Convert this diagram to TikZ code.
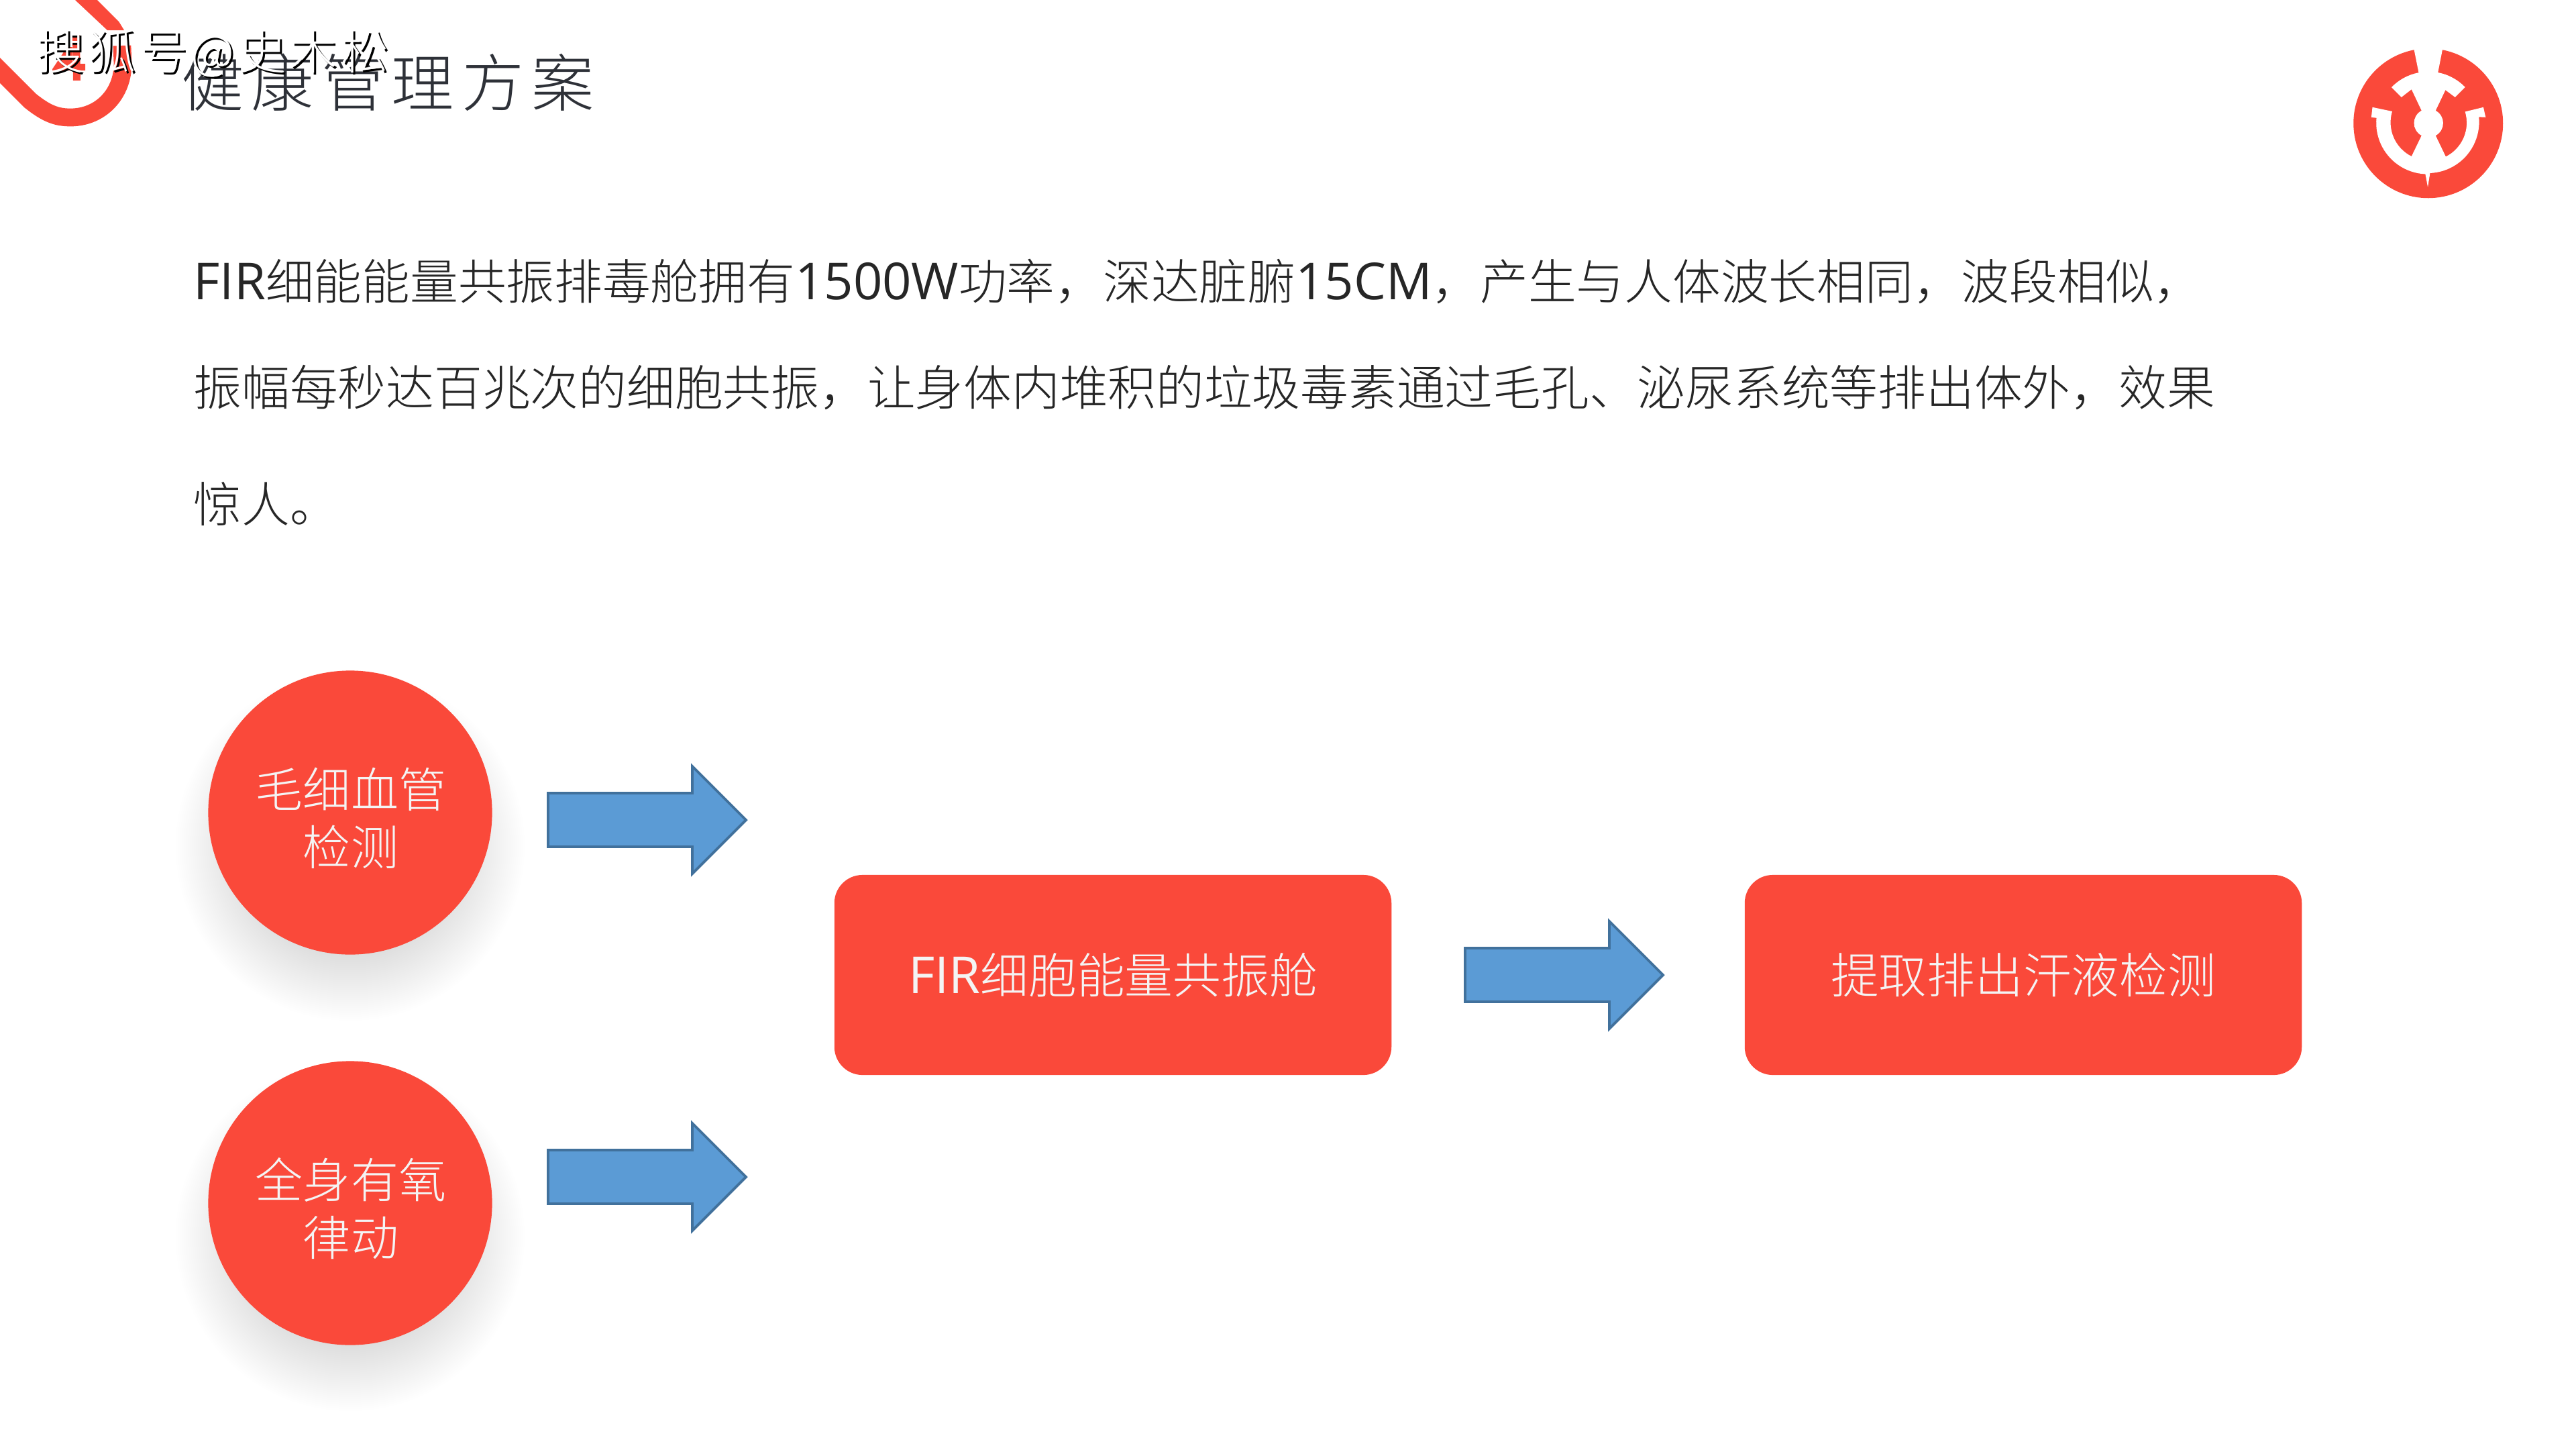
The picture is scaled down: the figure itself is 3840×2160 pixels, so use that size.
\documentclass[tikz,border=0pt]{standalone}
\usepackage{fontspec}
\setmainfont{Noto Sans CJK SC Light}
\newfontfamily\latf{Open Sans}
\newfontfamily\titlef[LetterSpace=12]{Noto Sans CJK SC Light}
\newfontfamily\markf[LetterSpace=8]{Noto Sans CJK SC Light}
\newcommand\La[1]{{\latf\fontsize{21.6}{24}\selectfont #1}}
\definecolor{brandred}{HTML}{FA493A}
\definecolor{arrowblue}{HTML}{5B9BD5}
\definecolor{arrowedge}{HTML}{41719C}
\definecolor{titleink}{HTML}{2E3138}
\definecolor{bodyink}{HTML}{262626}
\definecolor{paleink}{HTML}{F4F4F4}
\tikzset{
  x=0.01cm,y=-0.01cm,
  bodyline/.style={anchor=base west,inner sep=0pt,text=bodyink,font=\fontsize{20.4}{24}\selectfont},
  redcircle/.style={circle,fill=brandred,draw=none,minimum size=4.23cm,inner sep=0pt},
  circletext/.style={inner sep=0pt,align=center,text=paleink,font=\fontsize{20.2}{24.5}\selectfont},
  redbox/.style={rectangle,rounded corners=0.42cm,fill=brandred,draw=none,minimum width=8.3cm,minimum height=2.98cm,inner sep=0pt,text=paleink,font=\fontsize{20.4}{24}\selectfont},
  mark text/.style={anchor=base west,inner sep=0pt},
  pics/blockarrow/.style={code={
    \draw[fill=arrowblue,draw=arrowedge,line width=1.1pt,miter limit=10]
      (2,-40) -- (217,-40) -- (217,-80) -- (297,0) -- (217,80) -- (217,40) -- (2,40) -- cycle;
  }},
  pics/softshadow/.style={code={
    \foreach \r in {155,158,...,260} {\fill[black,opacity=0.0055] (0,50) circle[radius=\r];}
  }}
}
\begin{document}
\begin{tikzpicture}
\useasboundingbox (0,0) rectangle (3840,2160);
\fill[white] (0,0) rectangle (3840,2160);

% corner ornament
\draw[brandred,line width=7.6pt,line join=round]
  (-25,80) -- (45,150) .. controls (70,170) and (85,175) .. (105,175)
  .. controls (150,175) and (183,140) .. (183,95) -- (182,68);
\fill[brandred] (112,0) -- (145,0) -- (177,32) -- (185,45) -- (160,45) -- cycle;
\fill[brandred] (108,52) -- (119,52) -- (120,120) -- (109,120) -- cycle;
\fill[brandred] (78,103) -- (100,70) -- (108,70) -- (108,95) -- (127,95) -- (127,105) -- (78,105) -- cycle;

% title
\node[anchor=base west,inner sep=0pt,text=titleink] (title) at (270,158)
  {\titlef\fontsize{26.5}{30}\selectfont 健康管理方案};

% watermark
\node[mark text,text=black] (markshadow) at (57,106) {\markf\fontsize{20.2}{24}\selectfont 搜狐号@史木松};
\node[mark text,text=white] (mark) at (54,103) {\markf\fontsize{20.2}{24}\selectfont 搜狐号@史木松};

% logo
\begin{scope}[shift={(3440,40)},x=0.003333cm,y=-0.003333cm]
  \fill[brandred] (540,432) circle[radius=335];
  \fill[white]
    (475,95) -- (497,205) arc[start angle=259.2,end angle=224.1,radius=229]
    -- (420,315) -- (465,280) -- (510,375) .. controls (465,400) and (465,462) .. (510,487)
    -- (465,580) arc[start angle=116.6,end angle=196.9,radius=170]
    -- (290,360) -- (285,405) -- (308,408)
    arc[start angle=185.4,end angle=92.5,radius=230]
    -- (538,718) -- (548,655)
    arc[start angle=87.5,end angle=-5.4,radius=230]
    -- (797,405) -- (787,360) -- (705,380)
    arc[start angle=-16.9,end angle=63.4,radius=170]
    -- (573,487) .. controls (618,462) and (618,400) .. (573,375)
    -- (617,283) -- (660,315) -- (705,270)
    arc[start angle=-44.1,end angle=-79.2,radius=229]
    -- (605,95) -- cycle;
\end{scope}

% paragraph
\node[bodyline] (line1) at (288,446) {\La{FIR}细能能量共振排毒舱拥有\La{1500W}功率，深达脏腑\La{15CM}，产生与人体波长相同，波段相似，};
\node[bodyline] (line2) at (288,604) {振幅每秒达百兆次的细胞共振，让身体内堆积的垃圾毒素通过毛孔、泌尿系统等排出体外，效果};
\node[bodyline] (line3) at (288,778) {惊人。};

% shadows
\pic at (522,1211) {softshadow};
\pic at (522,1793) {softshadow};

% nodes
\node[redcircle] (c1) at (522,1211) {};
\node[redcircle] (c2) at (522,1793) {};
\node[circletext] (c1t) at (523,1219) {毛细血管\\检测};
\node[circletext] (c2t) at (523,1801) {全身有氧\\律动};
\node[redbox] (b1) at (1659,1453) {\La{FIR}细胞能量共振舱};
\node[redbox] (b2) at (3016,1453) {提取排出汗液检测};

% block arrows
\pic at (815,1222) {blockarrow};
\pic at (815,1754) {blockarrow};
\pic at (2182,1453) {blockarrow};
\end{tikzpicture}
\end{document}
